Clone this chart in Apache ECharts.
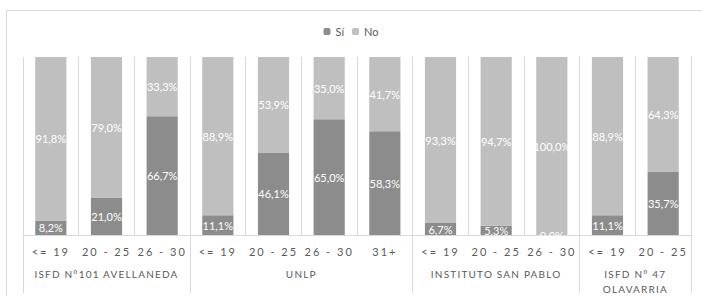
<!DOCTYPE html>
<html>
<head>
<meta charset="utf-8">
<script src="https://cdn.jsdelivr.net/npm/echarts@6/dist/echarts.min.js"></script>
<style>
  body { margin: 0; background: #fff; }
  #frame { position: absolute; left: 6px; top: 10px; width: 700px; height: 290px; border: 1px solid #d9d9d9; box-sizing: border-box; }
  #chart { position: absolute; left: 0; top: 0; width: 702px; height: 296px; }
  #chart text[fill="#595957"] { letter-spacing: 2px; }
  #chart text[fill="#595958"] { letter-spacing: 1.2px; }
</style>
</head>
<body>
<div id="frame"></div>
<div id="chart"></div>
<script>
// categorias (rango de edad) y grupos (institucion)
const edades = ['<= 19', '20 - 25', '26 - 30', '<= 19', '20 - 25', '26 - 30', '31+', '<= 19', '20 - 25', '26 - 30', '<= 19', '20 - 25'];
const grupos = ['ISFD N°101 AVELLANEDA', 'UNLP', 'INSTITUTO SAN PABLO', 'ISFD N° 47\nOLAVARRIA'];
const tamGrupos = [3, 4, 3, 2];

const si = [8.2, 21.0, 66.7, 11.1, 46.1, 65.0, 58.3, 6.7, 5.3, 0.0, 11.1, 35.7];
const no = [91.8, 79.0, 33.3, 88.9, 53.9, 35.0, 41.7, 93.3, 94.7, 100.0, 88.9, 64.3];

// eje de grupos: medias posiciones (boundaryGap false, 2 por categoria + 1)
const slots = new Array(edades.length * 2 + 1).fill('');
const bordes = new Set([0]);
let acc = 0;
grupos.forEach((g, i) => {
    slots[acc * 2 + tamGrupos[i]] = g;
    acc += tamGrupos[i];
    bordes.add(acc * 2);
});

const chart = echarts.init(document.getElementById('chart'), null, { renderer: 'svg' });
const fmt = p => p.value.toFixed(1).replace('.', ',') + '%';
const fuente = 'Lato, "Noto Sans", sans-serif';

chart.setOption({
    animation: false,
    textStyle: { fontFamily: fuente },
    legend: {
        top: 21,
        left: 'center',
        itemWidth: 7,
        itemHeight: 7,
        itemGap: 8,
        textStyle: { color: '#595959', fontSize: 11, fontFamily: fuente },
        data: ['Sí', 'No']
    },
    grid: { left: 23, right: 11, top: 57, bottom: 61 },
    xAxis: [
        {
            type: 'category',
            data: edades,
            axisLine: { lineStyle: { color: '#d9d9d9' } },
            axisTick: { show: false },
            splitLine: { show: true, interval: 0, lineStyle: { color: '#d9d9d9' } },
            axisLabel: { interval: 0, color: '#595957', fontSize: 11, margin: 11, fontFamily: fuente }
        },
        {
            type: 'category',
            position: 'bottom',
            boundaryGap: false,
            data: slots,
            axisLine: { show: false },
            axisTick: {
                show: true,
                interval: (i) => bordes.has(i),
                length: 58,
                lineStyle: { color: '#d9d9d9' }
            },
            axisLabel: { interval: 0, color: '#595958', fontSize: 10, margin: 31, lineHeight: 15, fontFamily: fuente, verticalAlign: 'top' },
            splitLine: { show: false }
        }
    ],
    yAxis: { type: 'value', min: 0, max: 100, show: false, splitLine: { show: false } },
    series: [
        {
            name: 'Sí',
            type: 'bar',
            stack: 'total',
            data: si,
            barWidth: '56%',
            itemStyle: { color: '#8c8c8c' },
            label: { show: true, position: 'inside', color: '#ffffff', fontSize: 11, formatter: fmt, fontFamily: fuente }
        },
        {
            name: 'No',
            type: 'bar',
            stack: 'total',
            data: no,
            barWidth: '56%',
            itemStyle: { color: '#bfbfbf' },
            label: { show: true, position: 'inside', color: '#ffffff', fontSize: 11, formatter: fmt, fontFamily: fuente }
        }
    ]
});
</script>
</body>
</html>
